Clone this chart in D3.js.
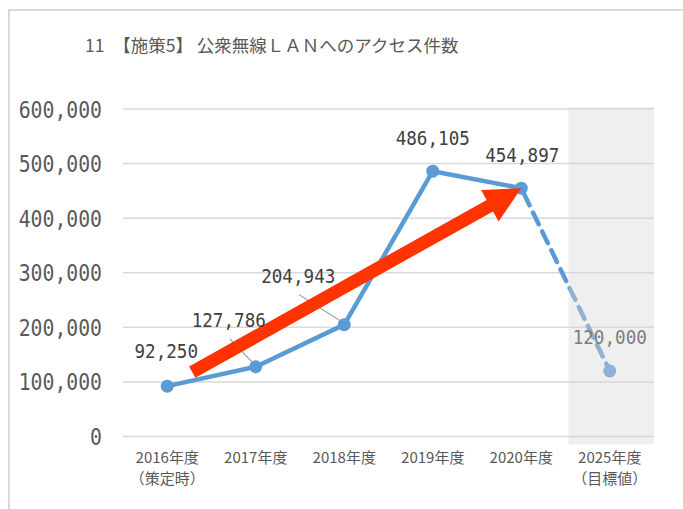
<!DOCTYPE html>
<html lang="ja">
<head>
<meta charset="UTF-8">
<title>公衆無線LANへのアクセス件数</title>
<style>
  html, body { margin: 0; padding: 0; background: #fff; }
  svg { display: block; }
</style>
</head>
<body>
<svg id="svg" width="683" height="509"></svg>
<script src="https://d3js.org/d3.v7.min.js"></script>
<script>
// data
const years = ['2016年度', '2017年度', '2018年度', '2019年度', '2020年度', '2025年度']
const yearNotes = ['（策定時）', '', '', '', '', '（目標値）']
const accessCounts = [92250, 127786, 204943, 486105, 454897, 120000]
const yTicks = [0, 100000, 200000, 300000, 400000, 500000, 600000]
const title = '11　【施策5】 公衆無線ＬＡＮへのアクセス件数'

// label offsets from each point (layout only)
const labelDx = [-1, -27, -46, 0, 1, 0]
const labelDy = [-28, -40, -42, -26, -26, -27]
const hasLeader = [false, true, true, false, false, false]

const svg = d3.select('#svg')
const plot = { left: 123, right: 654, top: 109, bottom: 436.5 }

const x = d3.scaleBand().domain(years).range([plot.left, plot.right]).padding(0)
const cx = d => x(d) + x.bandwidth() / 2
const y = d3.scaleLinear().domain([0, 600000]).range([plot.bottom, plot.top])
const fmt = d3.format(',')

// frame
svg.append('path')
  .attr('d', 'M9,509 V10 H683')
  .attr('fill', 'none')
  .attr('stroke', '#d9d9d9')
  .attr('stroke-width', 2)

// title
svg.append('text')
  .attr('x', 85).attr('y', 52)
  .attr('font-family', '"Noto Sans CJK JP", sans-serif')
  .attr('font-size', 17.5)
  .attr('fill', '#595959')
  .text(title)

// gridlines
svg.append('g')
  .selectAll('line')
  .data(yTicks)
  .join('line')
  .attr('x1', plot.left).attr('x2', plot.right)
  .attr('y1', d => y(d)).attr('y2', d => y(d))
  .attr('stroke', '#d9d9d9')
  .attr('stroke-width', 1.5)

// y axis labels
svg.append('g')
  .selectAll('text')
  .data(yTicks)
  .join('text')
  .attr('x', 102)
  .attr('y', d => y(d) + 8.5)
  .attr('text-anchor', 'end')
  .attr('font-family', '"DejaVu Sans Mono", monospace')
  .attr('font-size', 23)
  .attr('fill', '#595959')
  .attr('textLength', d => fmt(d).length * 11.9)
  .attr('lengthAdjust', 'spacingAndGlyphs')
  .text(d => fmt(d))

// x axis labels
const xl = svg.append('g')
  .attr('font-family', '"Noto Sans CJK JP", sans-serif')
  .attr('font-size', 15)
  .attr('fill', '#595959')
  .attr('text-anchor', 'middle')
xl.selectAll('text.yr')
  .data(years)
  .join('text')
  .attr('class', 'yr')
  .attr('x', d => cx(d))
  .attr('y', 463)
  .text(d => d)
xl.selectAll('text.note')
  .data(yearNotes)
  .join('text')
  .attr('class', 'note')
  .attr('x', (d, i) => cx(years[i]))
  .attr('y', 484)
  .text(d => d)

const pts = years.map((d, i) => ({ year: d, value: accessCounts[i], i }))

// leader lines
svg.append('g')
  .selectAll('line')
  .data(pts.filter(p => hasLeader[p.i]))
  .join('line')
  .attr('x1', p => cx(p.year) + labelDx[p.i] + 1)
  .attr('y1', p => y(p.value) + labelDy[p.i] + 12)
  .attr('x2', p => cx(p.year) - 1)
  .attr('y2', p => y(p.value) - 2)
  .attr('stroke', '#a6a6a6')
  .attr('stroke-width', 1.2)

// lines
const line = d3.line().x(p => cx(p.year)).y(p => y(p.value))
svg.append('path')
  .datum(pts.slice(0, 5))
  .attr('d', line)
  .attr('fill', 'none')
  .attr('stroke', '#5b9bd5')
  .attr('stroke-width', 4.5)
  .attr('stroke-linejoin', 'round')
svg.append('path')
  .datum(pts.slice(4))
  .attr('d', line)
  .attr('fill', 'none')
  .attr('stroke', '#5b9bd5')
  .attr('stroke-width', 4.5)
  .attr('stroke-dasharray', '13,8')
  .attr('stroke-dashoffset', -6)
  .attr('stroke-linecap', 'round')

// markers
svg.append('g')
  .selectAll('circle')
  .data(pts)
  .join('circle')
  .attr('cx', p => cx(p.year))
  .attr('cy', p => y(p.value))
  .attr('r', 6.5)
  .attr('fill', '#5b9bd5')

// red trend arrow
const tail = [cx(years[0]) + 25, y(118000)]
const tip = [cx(years[4]), y(accessCounts[4])]
const ang = Math.atan2(tip[1] - tail[1], tip[0] - tail[0])
const len = Math.hypot(tip[0] - tail[0], tip[1] - tail[1])
const sw = 6.5, hw = 18, hl = 36
const local = [[0, -sw], [len - hl, -sw], [len - hl, -hw], [len, 0], [len - hl, hw], [len - hl, sw], [0, sw]]
svg.append('polygon')
  .attr('points', local.map(([u, v]) => [
    tail[0] + u * Math.cos(ang) - v * Math.sin(ang),
    tail[1] + u * Math.sin(ang) + v * Math.cos(ang)
  ].join(',')).join(' '))
  .attr('fill', '#ff3300')

// data labels
svg.append('g')
  .selectAll('text')
  .data(pts)
  .join('text')
  .attr('x', p => cx(p.year) + labelDx[p.i])
  .attr('y', p => y(p.value) + labelDy[p.i])
  .attr('text-anchor', 'middle')
  .attr('font-family', '"DejaVu Sans Mono", monospace')
  .attr('font-size', 20)
  .attr('fill', '#404040')
  .attr('textLength', p => fmt(p.value).length * 10.6)
  .attr('lengthAdjust', 'spacingAndGlyphs')
  .text(p => fmt(p.value))

// target-year band (translucent gray over the target column)
svg.append('rect')
  .attr('x', x(years[5]) + 3)
  .attr('y', plot.top - 2)
  .attr('width', x.bandwidth() - 3)
  .attr('height', plot.bottom - plot.top + 10)
  .attr('fill', 'rgb(215,215,215)')
  .attr('fill-opacity', 0.4)
</script>
</body>
</html>
